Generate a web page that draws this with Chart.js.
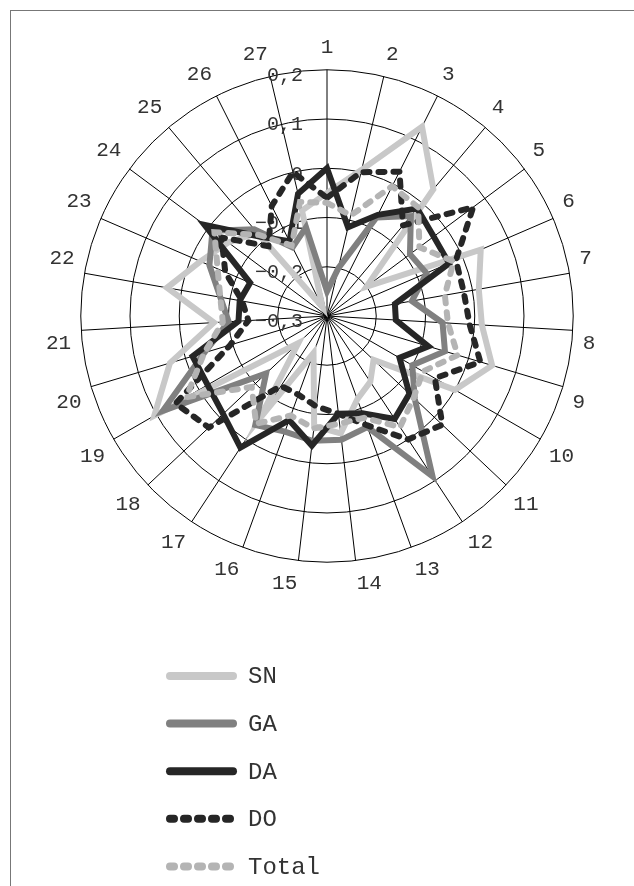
<!DOCTYPE html>
<html>
<head>
<meta charset="utf-8">
<script src="https://cdn.jsdelivr.net/npm/chart.js@4.4.1/dist/chart.umd.min.js"></script>
<style>
  html, body { margin: 0; padding: 0; background: #fff; }
  #wrap { position: relative; width: 634px; height: 886px; overflow: hidden; }
  #frame { position: absolute; left: 10px; top: 10px; width: 700px; height: 1000px;
           border-left: 1px solid #777; border-top: 1px solid #777; }
  #radar { position: absolute; left: 0; top: 0; }
</style>
</head>
<body>
<div id="wrap">
  <div id="frame"></div>
  <canvas id="radar" width="634" height="886"></canvas>
</div>
<script>
const categories = ["1", "2", "3", "4", "5", "6", "7", "8", "9", "10", "11", "12", "13", "14",
  "15", "16", "17", "18", "19", "20", "21", "22", "23", "24", "25", "26", "27"];

const sn = [-0.05, 0.005, 0.13, 0.036, -0.2, 0.04, 0.013, 0.015, 0.05, 0.0, -0.17, -0.14, -0.12, -0.06,
  -0.075, -0.22, -0.05, -0.22, 0.105, 0.033, -0.07, 0.03, -0.02, -0.05, -0.08, -0.28, -0.08];
const ga = [-0.25, -0.2, -0.076, -0.035, -0.09, -0.08, -0.125, -0.065, -0.05, -0.1, -0.055, 0.09, -0.06, -0.047,
  -0.045, -0.05, -0.035, -0.13, 0.085, -0.04, -0.1, -0.08, -0.04, -0.01, -0.07, -0.144, -0.115];
const da = [0.0, -0.115, -0.07, -0.015, -0.03, -0.03, -0.16, -0.16, -0.085, -0.13, -0.07, -0.05, -0.09, -0.1,
  -0.035, -0.075, 0.02, -0.01, -0.02, -0.015, -0.12, -0.12, -0.13, 0.01, -0.09, -0.13, -0.045];
const dO = [-0.06, 0.0, 0.028, -0.06, 0.07, -0.015, -0.018, -0.01, 0.025, -0.047, 0.022, 0.0, -0.064, -0.1,
  -0.115, -0.13, -0.13, 0.03, 0.055, -0.095, -0.14, -0.125, -0.075, -0.033, -0.115, -0.05, 0.0];
const total = [-0.07, -0.09, -0.005, -0.012, -0.066, -0.02, -0.057, -0.054, -0.023, -0.075, -0.058, -0.03, -0.08, -0.08,
  -0.07, -0.085, -0.038, -0.09, 0.03, -0.04, -0.088, -0.08, -0.058, -0.015, -0.085, -0.14, -0.062];

const tickValues = [0.2, 0.1, 0, -0.1, -0.2, -0.3];
const tickLabels = ["0,2", "0,1", "0", "\u22120,1", "\u22120,2", "\u22120,3"];

const FONT = '"Liberation Mono", "DejaVu Sans Mono", monospace';

// value labels sit left of the vertical axis, under the series lines
const tickText = {
  id: "tickText",
  beforeDatasetsDraw(chart) {
    const s = chart.scales.r;
    const ctx = chart.ctx;
    ctx.save();
    ctx.font = "20px " + FONT;
    ctx.fillStyle = "#333";
    ctx.textAlign = "right";
    ctx.textBaseline = "middle";
    tickValues.forEach((v, i) => {
      const d = s.getDistanceFromCenterForValue(v);
      ctx.fillText(tickLabels[i], s.xCenter - 24, s.yCenter - d + 6);
    });
    ctx.restore();
  },
};

// vertical legend under the chart
const stackLegend = {
  id: "stackLegend",
  afterDraw(chart) {
    const ctx = chart.ctx;
    chart.data.datasets.forEach((ds, i) => {
      const y = 676 + i * 47.6;
      ctx.save();
      ctx.strokeStyle = ds.borderColor;
      ctx.lineWidth = 8;
      ctx.lineCap = "round";
      ctx.setLineDash(ds.borderDash.length ? [4, 10] : []);
      ctx.beginPath();
      ctx.moveTo(170, y);
      ctx.lineTo(ds.borderDash.length ? 232 : 233, y);
      ctx.stroke();
      ctx.setLineDash([]);
      ctx.font = "24px " + FONT;
      ctx.fillStyle = "#333";
      ctx.textBaseline = "middle";
      ctx.fillText(ds.label, 248, y + 1);
      ctx.restore();
    });
  },
};

function series(label, data, color, dashed, order) {
  return {
    label,
    data,
    borderColor: color,
    backgroundColor: "transparent",
    borderWidth: 6,
    borderDash: dashed ? [6, 9] : [],
    borderCapStyle: dashed ? "round" : "butt",
    borderJoinStyle: "miter",
    fill: false,
    pointRadius: 0,
    order,
  };
}

new Chart(document.getElementById("radar"), {
  type: "radar",
  data: {
    labels: categories,
    datasets: [
      series("SN", sn, "#c8c8c8", false, 5),
      series("GA", ga, "#808080", false, 4),
      series("DA", da, "#262626", false, 3),
      series("DO", dO, "#262626", true, 2),
      series("Total", total, "#b4b4b4", true, 1),
    ],
  },
  options: {
    responsive: false,
    animation: false,
    layout: { padding: { left: 40, right: 32, top: 28, bottom: 283 } },
    plugins: {
      legend: { display: false },
      tooltip: { enabled: false },
    },
    scales: {
      r: {
        min: -0.3,
        max: 0.2,
        ticks: { stepSize: 0.1, display: false },
        grid: { circular: true, color: "#000", lineWidth: 1 },
        angleLines: { color: "#000", lineWidth: 1 },
        pointLabels: {
          color: "#333",
          padding: 10,
          font: { family: FONT, size: 21 },
        },
      },
    },
  },
  plugins: [tickText, stackLegend],
});
</script>
</body>
</html>
